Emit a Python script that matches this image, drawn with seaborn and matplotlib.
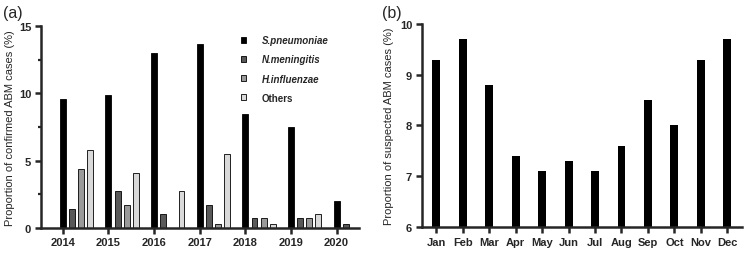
import numpy as np
import pandas as pd
import matplotlib
matplotlib.use("Agg")
import matplotlib.pyplot as plt
from matplotlib.ticker import MultipleLocator
import seaborn as sns

# %% data
years = ["2014", "2015", "2016", "2017", "2018", "2019", "2020"]
pathogens = ["S.pneumoniae", "N.meningitis", "H.influenzae", "Others"]
s_pneumoniae = [9.6, 9.9, 13.0, 13.7, 8.5, 7.5, 2.0]
n_meningitis = [1.4, 2.7, 1.0, 1.7, 0.7, 0.7, 0.3]
h_influenzae = [4.4, 1.7, 0.0, 0.3, 0.7, 0.7, 0.0]
others = [5.8, 4.1, 2.7, 5.5, 0.3, 1.0, 0.0]
pathogen_colors = ["#000000", "#595959", "#9a9a9a", "#d9d9d9"]

months = ["Jan", "Feb", "Mar", "Apr", "May", "Jun",
          "Jul", "Aug", "Sep", "Oct", "Nov", "Dec"]
suspected = [9.3, 9.7, 8.8, 7.4, 7.1, 7.3, 7.1, 7.6, 8.5, 8.0, 9.3, 9.7]

# %% frames
df_a = pd.DataFrame({"year": years, "S.pneumoniae": s_pneumoniae,
                     "N.meningitis": n_meningitis, "H.influenzae": h_influenzae,
                     "Others": others})
df_a = df_a.melt(id_vars="year", var_name="pathogen", value_name="prop")
df_b = pd.DataFrame({"month": months, "prop": suspected})

# %% style
sns.set_style("ticks")
plt.rcParams["font.family"] = ["Liberation Sans", "DejaVu Sans"]
plt.rcParams["axes.linewidth"] = 1.8

fig = plt.figure(figsize=(7.44, 2.55), dpi=100)
ax_a = fig.add_axes([0.055, 0.103, 0.4275, 0.79])
ax_b = fig.add_axes([0.567, 0.106, 0.43, 0.796])

# %% panel a
sns.barplot(data=df_a, x="year", y="prop", hue="pathogen", hue_order=pathogens,
            order=years, palette=pathogen_colors, width=0.8, gap=0.35,
            edgecolor="black", linewidth=0.6, ax=ax_a)
ax_a.set_ylim(0, 15)
ax_a.set_yticks([0, 5, 10, 15])
ax_a.yaxis.set_minor_locator(MultipleLocator(2.5))
ax_a.tick_params(axis="y", which="minor", width=1.6, length=2.5)
xt = np.arange(len(years)) - 0.3
ax_a.set_xticks(xt, years)
ax_a.set_xlim(xt[0] - 0.48, xt[-1] + 0.49)
ax_a.set_xlabel("")
ax_a.set_ylabel("Proportion of confirmed ABM cases (%)", fontsize=8, labelpad=3)

handles, labels = ax_a.get_legend_handles_labels()
leg = ax_a.legend(handles, labels, loc="upper left", bbox_to_anchor=(0.6, 1.0),
                  frameon=False, fontsize=7, handlelength=0.6, handleheight=0.6,
                  handletextpad=1.6, labelspacing=0.95)
for t in leg.get_texts():
    t.set_fontweight("bold")
    if t.get_text() != "Others":
        t.set_fontstyle("italic")

# %% panel b
sns.barplot(data=df_b, x="month", y="prop", color="black", width=0.3,
            edgecolor="black", linewidth=0, ax=ax_b)
ax_b.set_ylim(6, 10)
ax_b.set_yticks([6, 7, 8, 9, 10])
ax_b.set_xlim(-0.55, 11.55)
ax_b.set_xlabel("")
ax_b.set_ylabel("Proportion of suspected ABM cases (%)", fontsize=8, labelpad=4)

for ax in (ax_a, ax_b):
    sns.despine(ax=ax)
    ax.tick_params(axis="both", which="major", width=1.8, length=4.5,
                   labelsize=8, pad=2.5)
    for lab in ax.get_xticklabels() + ax.get_yticklabels():
        lab.set_fontweight("bold")

fig.text(0.004, 0.975, "(a)", fontsize=11.5, va="top", ha="left")
fig.text(0.514, 0.975, "(b)", fontsize=11.5, va="top", ha="left")

plt.savefig("out.png", dpi=100)
